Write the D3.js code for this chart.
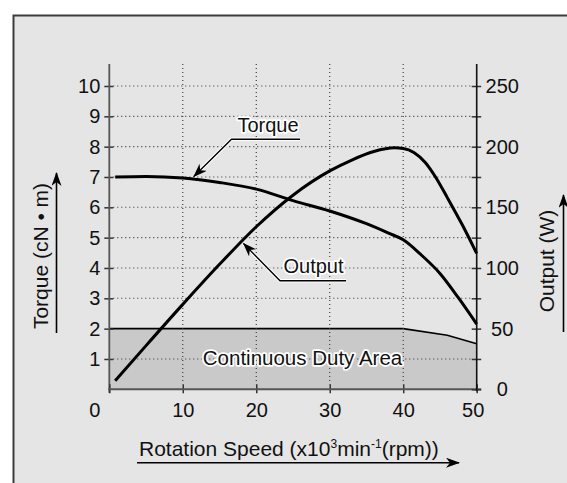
<!DOCTYPE html>
<html><head><meta charset="utf-8">
<script src="https://cdn.jsdelivr.net/npm/d3@7"></script>
<style>
html,body{margin:0;padding:0;background:#fff;}
svg{display:block;font-family:"Liberation Sans",Arial,sans-serif;}
</style></head>
<body><svg id="c" width="567" height="483"></svg>
<script>
// ---- data ----
const speedTicks = [0, 10, 20, 30, 40, 50];
const torqueTicks = [1, 2, 3, 4, 5, 6, 7, 8, 9, 10];
const outputTicks = [0, 25, 50, 75, 100, 125, 150, 175, 200, 225, 250];
const outputLabels = [0, 50, 100, 150, 200, 250];

const torqueSpeed = [0.8, 5, 10, 15, 20, 25, 30, 35, 38, 40, 42.5, 45, 47.5, 50];
const torqueValues = [7.0, 7.02, 6.97, 6.82, 6.6, 6.22, 5.88, 5.46, 5.15, 4.93, 4.42, 3.82, 3.02, 2.15];

const outputSpeed = [0.8, 5, 10, 15, 20, 25, 30, 33, 36, 38.8, 40, 41.5, 43, 44.5, 46, 48, 50];
const outputValues = [7, 36, 70, 103, 134, 160, 180, 189, 196, 199, 198.5, 195, 187, 174, 158, 136, 112];

const dutySpeed = [0, 40, 46, 50];
const dutyTorque = [2, 2, 1.78, 1.5];

// ---- layout ----
const svg = d3.select("#c");
const x = d3.scaleLinear().domain([0, 50]).range([109.3, 476.7]);
const yT = d3.scaleLinear().domain([0, 10]).range([389.3, 86]);
const yW = d3.scaleLinear().domain([0, 250]).range([389.3, 86]);
const plotTop = 64;

// frame
svg.append("rect").attr("x", 13.5).attr("y", 15.5).attr("width", 600).attr("height", 500)
  .attr("fill", "#e5e5e5").attr("stroke", "#3c3c3c").attr("stroke-width", 2);

const defs = svg.append("defs");
defs.append("marker").attr("id", "ah").attr("viewBox", "0 0 14 10")
  .attr("refX", 13).attr("refY", 5).attr("markerWidth", 14).attr("markerHeight", 10)
  .attr("markerUnits", "userSpaceOnUse").attr("orient", "auto")
  .append("path").attr("d", "M0,0 L14,5 L0,10 L4,5 Z").attr("fill", "#000");

// duty area
const dutyPts = dutySpeed.map((s, i) => [s, dutyTorque[i]]);
svg.append("path")
  .datum(dutyPts)
  .attr("d", d3.area().x(d => x(d[0])).y0(yT(0)).y1(d => yT(d[1])))
  .attr("fill", "#c9c9c9");
svg.append("path")
  .datum(dutyPts)
  .attr("d", d3.line().x(d => x(d[0])).y(d => yT(d[1])))
  .attr("fill", "none").attr("stroke", "#000").attr("stroke-width", 1.6);

// grid
const grid = svg.append("g").attr("stroke", "#333").attr("stroke-width", 1.1).attr("stroke-dasharray", "1,3");
grid.selectAll("line.h").data(torqueTicks.filter(t => t !== 2)).enter().append("line")
  .attr("x1", x(0) + 4).attr("x2", x(50) - 4)
  .attr("y1", d => yT(d)).attr("y2", d => yT(d));
grid.selectAll("line.v").data(speedTicks.filter(s => s > 0 && s < 50)).enter().append("line")
  .attr("x1", d => x(d)).attr("x2", d => x(d))
  .attr("y1", plotTop).attr("y2", yT(0) - 5);

// axes
const tickFont = 20;
// left axis
const gl = svg.append("g").attr("transform", `translate(${x(0)},0)`)
  .call(d3.axisLeft(yT).tickValues(torqueTicks).tickSize(5).tickPadding(4));
gl.select(".domain").remove();
gl.selectAll(".tick line").attr("x1", 4).attr("stroke", "#333").attr("stroke-width", 1.5);
gl.selectAll("text").attr("font-size", tickFont).attr("fill", "#111").attr("font-family", "Liberation Sans, Arial, sans-serif");
svg.append("line").attr("x1", x(0)).attr("x2", x(0)).attr("y1", plotTop).attr("y2", yT(0) + 3.5)
  .attr("stroke", "#555").attr("stroke-width", 1.8);

// bottom axis
const gb = svg.append("g").attr("transform", `translate(0,${yT(0)})`)
  .call(d3.axisBottom(x).tickValues(speedTicks).tickSize(4).tickPadding(10));
gb.select(".domain").remove();
gb.selectAll(".tick line").attr("y1", -5).attr("stroke", "#333").attr("stroke-width", 1.5);
gb.selectAll("text").attr("font-size", tickFont).attr("fill", "#111").attr("font-family", "Liberation Sans, Arial, sans-serif")
  .attr("dx", d => d === 0 ? -15 : (d === 50 ? -4 : 0));
svg.append("line").attr("x1", x(0) - 1).attr("x2", x(50) + 4.5).attr("y1", yT(0)).attr("y2", yT(0))
  .attr("stroke", "#555").attr("stroke-width", 2);

// right axis
const gr = svg.append("g").attr("transform", `translate(${x(50)},0)`)
  .call(d3.axisRight(yW).tickValues(outputTicks).tickSize(4.5).tickPadding(0)
    .tickFormat(d => outputLabels.includes(d) ? d : ""));
gr.select(".domain").remove();
gr.selectAll(".tick line").attr("x1", -5).attr("stroke", "#333").attr("stroke-width", 1.5);
gr.selectAll("text").attr("font-size", tickFont).attr("fill", "#111").attr("font-family", "Liberation Sans, Arial, sans-serif")
  .attr("text-anchor", "middle").attr("x", 25.5);
svg.append("line").attr("x1", x(50)).attr("x2", x(50)).attr("y1", plotTop).attr("y2", yT(0) + 2)
  .attr("stroke", "#111").attr("stroke-width", 1.6);

// curves
const tPts = torqueSpeed.map((s, i) => [s, torqueValues[i]]);
const oPts = outputSpeed.map((s, i) => [s, outputValues[i]]);
svg.append("path").datum(tPts)
  .attr("d", d3.line().curve(d3.curveMonotoneX).x(d => x(d[0])).y(d => yT(d[1])))
  .attr("fill", "none").attr("stroke", "#000").attr("stroke-width", 3);
svg.append("path").datum(oPts)
  .attr("d", d3.line().curve(d3.curveMonotoneX).x(d => x(d[0])).y(d => yW(d[1])))
  .attr("fill", "none").attr("stroke", "#000").attr("stroke-width", 3);

// annotations
function halo(sel) {
  return sel.attr("paint-order", "stroke").attr("stroke", "#fff").attr("stroke-width", 3.5)
    .attr("stroke-linejoin", "round").attr("fill", "#111");
}
// Torque label
svg.append("path").attr("d", "M300,139.3 L231.5,139.3 L193.8,176.5")
  .attr("fill", "none").attr("stroke", "#fff").attr("stroke-width", 3.5);
svg.append("path").attr("d", "M300,139.3 L231.5,139.3 L193.8,176.5")
  .attr("fill", "none").attr("stroke", "#000").attr("stroke-width", 1.4).attr("marker-end", "url(#ah)");
halo(svg.append("text").attr("x", 268).attr("y", 132).attr("text-anchor", "middle")
  .attr("font-size", 20).text("Torque"));
// Output label
svg.append("path").attr("d", "M346,280.7 L280,280.7 L243.5,243.5")
  .attr("fill", "none").attr("stroke", "#fff").attr("stroke-width", 3.5);
svg.append("path").attr("d", "M346,280.7 L280,280.7 L243.5,243.5")
  .attr("fill", "none").attr("stroke", "#000").attr("stroke-width", 1.4).attr("marker-end", "url(#ah)");
halo(svg.append("text").attr("x", 313.5).attr("y", 273).attr("text-anchor", "middle")
  .attr("font-size", 20).text("Output"));
// Duty area label
halo(svg.append("text").attr("x", 302.5).attr("y", 364.5).attr("text-anchor", "middle")
  .attr("font-size", 20.5).text("Continuous Duty Area"));

// axis titles
const xt = svg.append("text").attr("x", 139).attr("y", 456).attr("font-size", 21).attr("fill", "#111");
xt.append("tspan").text("Rotation Speed (x10");
xt.append("tspan").attr("font-size", 12).attr("dy", -8).text("3");
xt.append("tspan").attr("dy", 8).text("min");
xt.append("tspan").attr("font-size", 12).attr("dy", -8).text("-1");
xt.append("tspan").attr("dy", 8).text("(rpm))");
svg.append("line").attr("x1", 137).attr("x2", 459).attr("y1", 462.7).attr("y2", 462.7)
  .attr("stroke", "#000").attr("stroke-width", 1.6).attr("marker-end", "url(#ah)");

svg.append("text").attr("transform", "translate(48,256) rotate(-90)").attr("text-anchor", "middle")
  .attr("font-size", 21).attr("fill", "#111").text("Torque (cN • m)");
svg.append("line").attr("x1", 56.5).attr("x2", 56.5).attr("y1", 333).attr("y2", 173)
  .attr("stroke", "#000").attr("stroke-width", 1.6).attr("marker-end", "url(#ah)");

svg.append("text").attr("transform", "translate(553.5,261) rotate(-90)").attr("text-anchor", "middle")
  .attr("font-size", 21).attr("fill", "#111").text("Output (W)");
svg.append("line").attr("x1", 563.5).attr("x2", 563.5).attr("y1", 332).attr("y2", 195)
  .attr("stroke", "#000").attr("stroke-width", 1.6).attr("marker-end", "url(#ah)");
</script></body></html>
